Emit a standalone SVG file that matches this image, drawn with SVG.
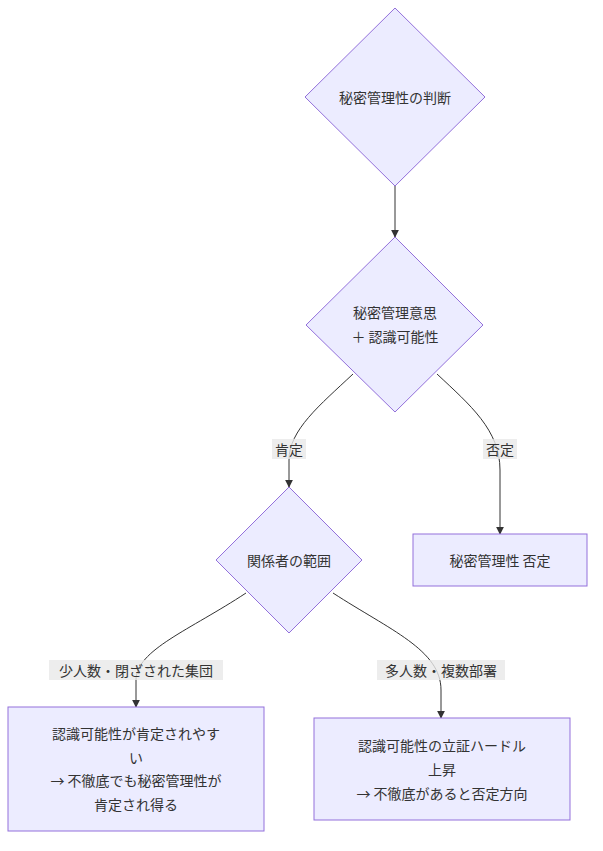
<svg xmlns="http://www.w3.org/2000/svg" width="603" height="851" viewBox="0 0 603 851">
<style>
.n{fill:#ECECFF;stroke:#9370DB;stroke-width:1}
.t{font-family:"Noto Sans CJK JP","Liberation Sans",sans-serif;font-size:14px;fill:#333;text-anchor:middle;dominant-baseline:central}
.e{fill:none;stroke:#333;stroke-width:1;marker-end:url(#a)}
.lb{fill:#e8e8e8;opacity:0.8}
</style>
<defs><marker id="a" viewBox="0 0 10 10" refX="9" refY="5" markerWidth="8" markerHeight="8" orient="auto"><path d="M0,0L10,5L0,10z" fill="#333"/></marker></defs>
<rect width="603" height="851" fill="#fff"/>
<g id="edges">
<path class="e" d="M395,186V237"/>
<path class="e" d="M353,374C320,405 289,430 289,460V487"/>
<path class="e" d="M437,374C470,405 500,430 500,470V534"/>
<path class="e" d="M246,593C190,630 136,650 136,680V707"/>
<path class="e" d="M333,593C390,630 441,650 441,690V718"/>
<rect class="lb" x="272" y="439" width="34" height="20"/><text class="t" x="289" y="449">肯定</text>
<rect class="lb" x="483" y="439" width="34" height="20"/><text class="t" x="500" y="449">否定</text>
<rect class="lb" x="49" y="660" width="174" height="20"/><text class="t" x="136" y="670">少人数・閉ざされた集団</text>
<rect class="lb" x="377" y="660" width="128" height="20"/><text class="t" x="441" y="670">多人数・複数部署</text>
</g>
<g id="n1"><path class="n" d="M395,8L485,97L395,186L305,97Z"/><text class="t" x="395" y="97">秘密管理性の判断</text></g>
<g id="n2"><path class="n" d="M395,237L483,325L395,412L306,325Z"/><text class="t" x="395" y="312">秘密管理意思</text><text class="t" x="395" y="336">＋ 認識可能性</text></g>
<g id="n3"><rect class="n" x="413" y="534" width="174" height="52"/><text class="t" x="500" y="560">秘密管理性 否定</text></g>
<g id="n4"><path class="n" d="M289,487L362,560L289,633L216,560Z"/><text class="t" x="289" y="560">関係者の範囲</text></g>
<g id="n5"><rect class="n" x="8" y="707" width="256" height="124"/><text class="t" x="136" y="733">認識可能性が肯定されやす</text><text class="t" x="136" y="757">い</text><text class="t" x="136" y="780">→ 不徹底でも秘密管理性が</text><text class="t" x="136" y="804">肯定され得る</text></g>
<g id="n6"><rect class="n" x="314" y="718" width="256" height="102"/><text class="t" x="442" y="745">認識可能性の立証ハードル</text><text class="t" x="442" y="769">上昇</text><text class="t" x="442" y="793">→ 不徹底があると否定方向</text></g>
</svg>
